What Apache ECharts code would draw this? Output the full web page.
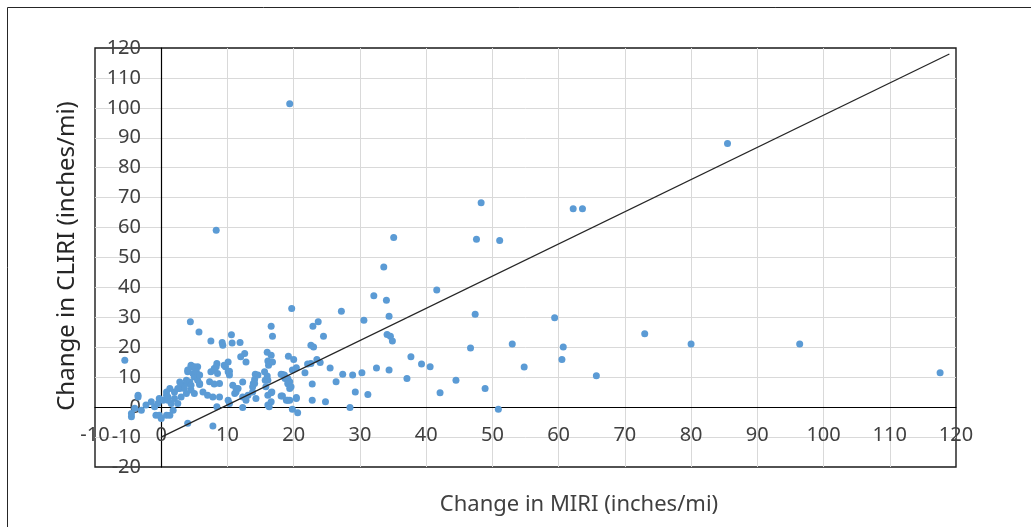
<!DOCTYPE html>
<html>
<head>
<meta charset="utf-8">
<title>MIRI vs CLIRI</title>
<script src="https://cdn.jsdelivr.net/npm/echarts@6/dist/echarts.min.js"></script>
<style>
  html, body { margin: 0; padding: 0; background: #fff; }
  #chart { width: 1031px; height: 527px; }
</style>
</head>
<body>
<div id="chart"></div>
<script type="text/javascript">
// [change in MIRI, change in CLIRI]
var farPoints = [
  [19.4, 101.4], [8.3, 59.1], [85.5, 88.1], [48.3, 68.3], [62.2, 66.3], [63.6, 66.3],
  [47.6, 56.1], [51.1, 55.7], [35.1, 56.7], [33.6, 46.8], [41.6, 39.1], [32.1, 37.2],
  [34.0, 35.7], [34.4, 30.4], [47.4, 31.0], [59.4, 29.9], [53.0, 21.1], [60.7, 20.1],
  [60.5, 15.9], [54.8, 13.4], [65.7, 10.5], [48.9, 6.2], [50.9, -0.7], [46.7, 19.8],
  [73.0, 24.5], [80.0, 21.1], [96.4, 21.1], [117.6, 11.5]
];
var midPoints = [
  [19.7, 33.0], [27.2, 32.0], [30.6, 29.0], [22.9, 27.0], [23.7, 28.5], [16.6, 27.0],
  [16.8, 23.7], [24.5, 23.7], [34.1, 24.3], [34.6, 23.7], [34.9, 22.1], [22.6, 20.7],
  [23.0, 20.1], [19.2, 17.0], [20.0, 15.9], [37.7, 16.8], [39.3, 14.4], [40.6, 13.5],
  [23.5, 15.9], [24.0, 14.9], [22.1, 14.4], [22.6, 14.6], [19.8, 12.4], [25.5, 13.1],
  [32.5, 13.1], [34.4, 12.4], [18.1, 11.0], [18.6, 10.1], [21.7, 11.5], [27.4, 11.0],
  [28.9, 10.7], [30.3, 11.5], [19.1, 9.6], [19.4, 8.5], [19.2, 7.7], [37.1, 9.6],
  [44.5, 9.0], [22.8, 7.7], [26.4, 8.5], [16.6, 4.8], [19.4, 6.2], [18.3, 3.7],
  [29.3, 5.1], [31.2, 4.2], [42.1, 4.8], [20.4, 3.2], [19.1, 2.3], [22.8, 2.3],
  [24.8, 1.8], [16.6, 1.8], [19.8, -0.7], [20.6, -1.9], [28.5, -0.1]
];
var nearPoints = [
  [4.4, 28.5], [5.7, 25.1], [7.5, 22.1], [10.6, 24.2], [9.2, 21.6], [9.3, 20.7],
  [10.7, 21.4], [11.9, 21.6], [16.0, 18.3], [12.0, 16.8], [12.6, 17.9], [12.8, 15.1],
  [16.1, 15.4], [16.2, 14.0], [16.8, 15.1], [16.6, 17.3], [5.5, 13.5], [8.4, 14.6],
  [8.0, 12.9], [7.5, 11.8], [10.1, 15.1], [9.7, 13.5], [10.3, 12.0], [10.3, 10.7],
  [15.6, 11.8], [16.0, 10.4], [15.7, 9.0], [14.2, 11.0], [14.1, 9.2], [13.9, 7.9],
  [13.8, 6.8], [18.3, 10.9], [18.7, 9.6], [19.1, 7.9], [19.6, 6.8], [20.4, 13.2],
  [7.3, 8.5], [8.0, 7.7], [8.8, 7.9], [5.8, 7.6], [10.8, 7.3], [11.3, 6.2],
  [11.1, 4.6], [6.3, 5.1], [7.0, 4.0], [7.8, 3.4], [8.8, 3.4], [10.1, 2.3],
  [10.3, 1.2], [12.3, 3.4], [13.8, 5.1], [14.3, 2.9], [16.7, 5.1], [18.1, 3.7],
  [16.1, 0.7], [16.3, 0.1], [12.3, -0.1], [8.4, 0.1], [18.9, 2.3], [20.4, 2.9],
  [7.8, -6.3], [8.3, 13.5], [8.5, 11.2], [8.0, 12.4], [9.5, 14.0], [10.1, 11.8],
  [11.6, 6.2], [11.3, 5.1], [12.3, 8.4], [12.8, 2.3], [13.1, 4.0], [14.6, 10.7],
  [14.1, 7.9], [15.8, 6.8], [16.1, 4.0], [16.1, 9.0], [18.6, 10.7], [19.4, 2.3]
];
var originPoints = [
  [-5.5, 15.7], [-3.5, 4.0], [-4.5, -3.2], [-4.0, -0.4], [-3.0, -1.0], [-2.3, 0.7],
  [-1.5, 1.8], [-1.0, 0.1], [-0.5, 1.2], [-0.3, 2.9], [0.3, 2.3], [0.8, 4.0],
  [-0.8, -2.7], [-0.3, -2.7], [0.0, -3.8], [0.8, -2.7], [1.3, -2.7], [1.8, -1.0],
  [1.5, 1.2], [1.0, 2.3], [2.0, 2.9], [2.5, 1.2], [3.0, 3.4], [3.8, 4.6],
  [4.5, 5.7], [5.0, 4.6], [2.8, 6.2], [3.3, 7.3], [3.8, 7.9], [4.0, 11.8],
  [4.5, 13.4], [4.8, 11.2], [5.0, 10.1], [5.5, 9.0], [5.8, 7.9], [4.0, -5.4],
  [4.5, 14.0], [5.0, 13.5], [5.3, 11.8], [5.8, 10.7], [4.0, 12.4], [3.8, 9.0],
  [4.3, 8.4], [4.5, 7.3], [3.5, 6.2], [2.8, 8.4], [2.5, 6.2], [2.0, 5.1],
  [1.3, 6.2], [0.8, 5.1], [1.0, 3.4], [-4.5, -2.1], [-3.5, 3.4]
];
// straight reference line drawn on the chart
var lineX = [0, 119];
var lineY = [-10, 118];

var allPoints = farPoints.concat(midPoints, nearPoints, originPoints);
var linePoints = lineX.map(function (x, i) { return [x, lineY[i]]; });

var myChart = echarts.init(document.getElementById('chart'));
var labelStyle = { color: '#404040', fontSize: 20, fontFamily: 'Noto Sans' };
var gridLine = { show: true, showMinLine: false, showMaxLine: false, lineStyle: { color: '#d9d9d9', width: 1 } };

// main axes: grid lines and zero lines
// label axes: same scale, shifted inward so labels sit next to the zero lines
var option = {
  animation: false,
  backgroundColor: '#fff',
  grid: {
    left: 95, top: 48, right: 75, bottom: 60,
    show: true, borderColor: '#1a1a1a', borderWidth: 1.4,
    outerBoundsMode: 'none'
  },
  graphic: [{
    type: 'rect',
    shape: { x: 7.5, y: 7.5, width: 1040, height: 540 },
    style: { fill: null, stroke: '#262626', lineWidth: 1 },
    silent: true
  }, {
    type: 'text',
    x: 579, y: 505,
    style: {
      text: 'Change in MIRI (inches/mi)', fill: '#404040',
      font: '22px "Noto Sans"', align: 'center', verticalAlign: 'middle'
    }
  }, {
    type: 'text',
    x: 67, y: 256, rotation: Math.PI / 2,
    style: {
      text: 'Change in CLIRI (inches/mi)', fill: '#262626',
      font: '24px "Noto Sans"', align: 'center', verticalAlign: 'middle'
    }
  }],
  xAxis: [{
    type: 'value', min: -10, max: 120, interval: 10,
    axisLine: { onZero: true, lineStyle: { color: '#000', width: 1.2 } },
    axisTick: { show: false },
    axisLabel: { show: false },
    splitLine: gridLine
  }, {
    type: 'value', min: -10, max: 120, interval: 10,
    position: 'bottom', offset: -60,
    axisLine: { show: false },
    axisTick: { show: false },
    axisLabel: Object.assign({ margin: 18, showMinLabel: true, showMaxLabel: true }, labelStyle),
    splitLine: { show: false }
  }],
  yAxis: [{
    type: 'value', min: -20, max: 120, interval: 10,
    axisLine: { onZero: true, lineStyle: { color: '#000', width: 1.2 } },
    axisTick: { show: false },
    axisLabel: { show: false },
    splitLine: gridLine
  }, {
    type: 'value', min: -20, max: 120, interval: 10,
    position: 'left', offset: -66,
    axisLine: { show: false },
    axisTick: { show: false },
    axisLabel: Object.assign({ margin: 20, showMinLabel: true, showMaxLabel: true }, labelStyle),
    splitLine: { show: false }
  }],
  series: [
    {
      type: 'scatter',
      data: allPoints,
      symbolSize: 7,
      itemStyle: { color: '#5b9bd5', opacity: 1 }
    },
    {
      type: 'line',
      data: linePoints,
      symbol: 'none',
      lineStyle: { color: '#262626', width: 1.3 },
      z: 3
    }
  ]
};
myChart.setOption(option);
</script>
</body>
</html>
